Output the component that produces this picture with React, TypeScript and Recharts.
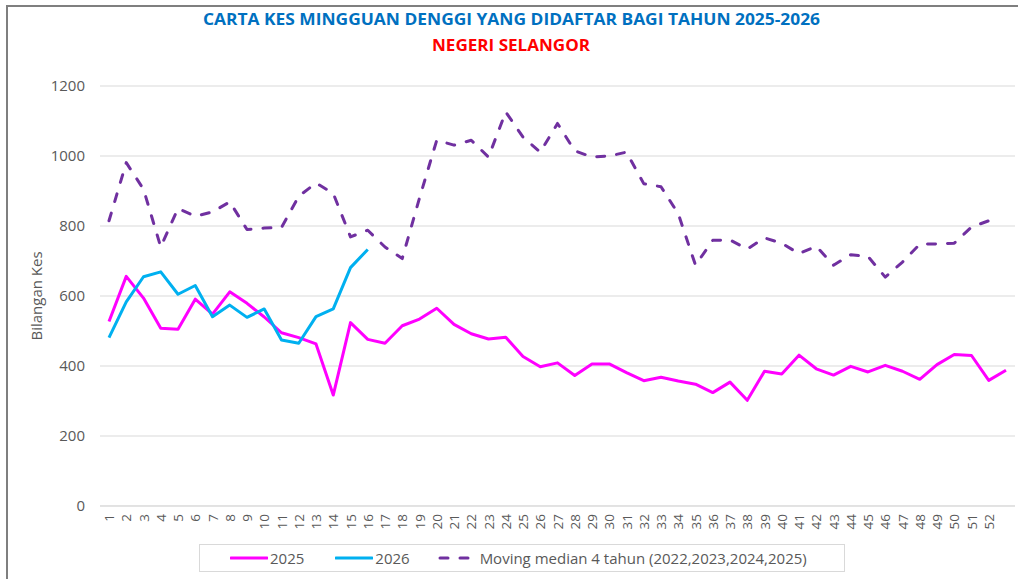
import { LineChart, Line, XAxis, YAxis, CartesianGrid, Legend } from "recharts"

// Weekly dengue cases, Selangor
const weekLabels = [
  "1", "2", "3", "4", "5", "6", "7", "8", "9", "10",
  "11", "12", "13", "14", "15", "16", "17", "18", "19", "20",
  "21", "22", "23", "24", "25", "26", "27", "28", "29", "30",
  "31", "32", "33", "34", "35", "36", "37", "38", "39", "40",
  "41", "42", "43", "44", "45", "46", "47", "48", "49", "50",
  "51", "52", "",
]

const cases2025 = [
  527, 656, 594, 508, 505, 591, 548, 612, 579, 540,
  495, 481, 463, 317, 524, 476, 465, 515, 534, 565,
  519, 492, 477, 482, 427, 398, 409, 373, 406, 406,
  381, 358, 368, 357, 348, 324, 354, 302, 385, 377,
  431, 392, 374, 399, 383, 402, 385, 362, 404, 433,
  430, 359, 388,
]

const cases2026 = [
  481, 583, 655, 669, 605, 630, 541, 574, 539, 563,
  474, 465, 541, 563, 681, 733,
]

const median4y = [
  815, 981, 905, 740, 850, 828, 840, 869, 790, 794,
  796, 885, 923, 893, 769, 788, 740, 707, 880, 1045,
  1031, 1045, 997, 1126, 1054, 1011, 1093, 1015, 997, 1000,
  1011, 921, 912, 835, 688, 759, 760, 734, 766, 751,
  721, 742, 688, 718, 713, 654, 697, 748, 749, 751,
  797, 815,
]

const yTicks = [0, 200, 400, 600, 800, 1000, 1200]

const COLORS = {
  y2025: "#FF00FF",
  y2026: "#00B0F0",
  median: "#7030A0",
  text: "#595959",
  grid: "#d9d9d9",
}

const FONT = "'Open Sans', 'DejaVu Sans', sans-serif"

const data = weekLabels.map((week, i) => ({
  week,
  y2025: cases2025[i] ?? null,
  y2026: cases2026[i] ?? null,
  median: median4y[i] ?? null,
}))

function WeekTick({ x, y, payload }: any) {
  return (
    <text
      x={x}
      y={y}
      transform={`rotate(-90 ${x} ${y})`}
      textAnchor="end"
      dominantBaseline="central"
      fill={COLORS.text}
      fontSize={13.5}
      fontFamily={FONT}
    >
      {payload.value}
    </text>
  )
}

function LegendSwatch({ color, dashed }: { color: string; dashed?: boolean }) {
  return (
    <svg width={38} height={10} style={{ display: "block" }}>
      <line
        x1={dashed ? 2 : 1}
        y1={5}
        x2={dashed ? 36 : 37}
        y2={5}
        stroke={color}
        strokeWidth={3}
        strokeLinecap="round"
        strokeDasharray={dashed ? "8 12" : undefined}
      />
    </svg>
  )
}

function renderLegend() {
  const items = [
    { label: "2025", color: COLORS.y2025, gap: 31 },
    { label: "2026", color: COLORS.y2026, gap: 28 },
    { label: "Moving median 4 tahun (2022,2023,2024,2025)", color: COLORS.median, dashed: true, gap: 0 },
  ]
  return (
    <div
      style={{
        display: "flex",
        alignItems: "center",
        height: 28,
        boxSizing: "border-box",
        border: `1px solid ${COLORS.grid}`,
        paddingLeft: 30,
        fontFamily: FONT,
        fontSize: 15,
        color: COLORS.text,
      }}
    >
      {items.map((item) => (
        <div key={item.label} style={{ display: "flex", alignItems: "center", marginRight: item.gap }}>
          <LegendSwatch color={item.color} dashed={item.dashed} />
          <span style={{ marginLeft: item.dashed ? 4 : 2 }}>{item.label}</span>
        </div>
      ))}
    </div>
  )
}

export default function App() {
  return (
    <div
      style={{
        position: "absolute",
        left: 0,
        top: 0,
        width: 1018,
        height: 579,
        overflow: "hidden",
        background: "#fff",
      }}
    >
      {/* chart frame, right and bottom edges fall outside the picture */}
      <div
        style={{
          position: "absolute",
          left: 6,
          top: 5,
          width: 1040,
          height: 620,
          border: "2px solid #7f7f7f",
        }}
      />

      <svg width={1018} height={60} style={{ position: "absolute", left: 0, top: 0 }}>
        <text
          x={511.5}
          y={25}
          textAnchor="middle"
          fontFamily={FONT}
          fontWeight={700}
          fontSize={16}
          fill="#0070C0"
          textLength={617}
          lengthAdjust="spacingAndGlyphs"
        >
          CARTA KES MINGGUAN DENGGI YANG DIDAFTAR BAGI TAHUN 2025-2026
        </text>
        <text
          x={511}
          y={51}
          textAnchor="middle"
          fontFamily={FONT}
          fontWeight={700}
          fontSize={16}
          fill="#FF0000"
          textLength={158}
          lengthAdjust="spacingAndGlyphs"
        >
          NEGERI SELANGOR
        </text>
      </svg>

      <div style={{ position: "absolute", left: 0, top: 0 }}>
        <LineChart
          width={1018}
          height={579}
          data={data}
          margin={{ top: 86, right: 3, bottom: 33, left: 40 }}
        >
          <CartesianGrid vertical={false} stroke={COLORS.grid} strokeWidth={1} />
          <XAxis
            dataKey="week"
            interval={0}
            height={40}
            padding={{ left: 9, right: 9 }}
            axisLine={{ stroke: COLORS.grid }}
            tickLine={false}
            tickMargin={2}
            tick={<WeekTick />}
          />
          <YAxis
            domain={[0, 1200]}
            ticks={yTicks}
            width={60}
            axisLine={false}
            tickLine={false}
            tickMargin={9}
            tick={{ fill: COLORS.text, fontSize: 15, fontFamily: FONT }}
            label={{
              content: ({ viewBox }: any) => {
                const cx = viewBox.x - 4
                const cy = viewBox.y + viewBox.height / 2
                return (
                  <text
                    x={cx}
                    y={cy}
                    transform={`rotate(-90 ${cx} ${cy})`}
                    textAnchor="middle"
                    dominantBaseline="central"
                    fill={COLORS.text}
                    fontSize={15}
                    fontFamily={FONT}
                  >
                    Bilangan Kes
                  </text>
                )
              },
            }}
          />
          <Legend
            layout="horizontal"
            verticalAlign="middle"
            align="center"
            content={renderLegend}
            wrapperStyle={{ left: 199, top: 544, width: 646, height: 28 }}
          />
          <Line
            type="linear"
            dataKey="y2025"
            name="2025"
            stroke={COLORS.y2025}
            strokeWidth={3}
            strokeLinejoin="round"
            dot={false}
            activeDot={false}
            isAnimationActive={false}
          />
          <Line
            type="linear"
            dataKey="y2026"
            name="2026"
            stroke={COLORS.y2026}
            strokeWidth={3}
            strokeLinejoin="round"
            dot={false}
            activeDot={false}
            isAnimationActive={false}
          />
          <Line
            type="linear"
            dataKey="median"
            name="Moving median 4 tahun (2022,2023,2024,2025)"
            stroke={COLORS.median}
            strokeWidth={3}
            strokeDasharray="8 12"
            strokeLinecap="round"
            strokeLinejoin="round"
            dot={false}
            activeDot={false}
            isAnimationActive={false}
          />
        </LineChart>
      </div>
    </div>
  )
}
